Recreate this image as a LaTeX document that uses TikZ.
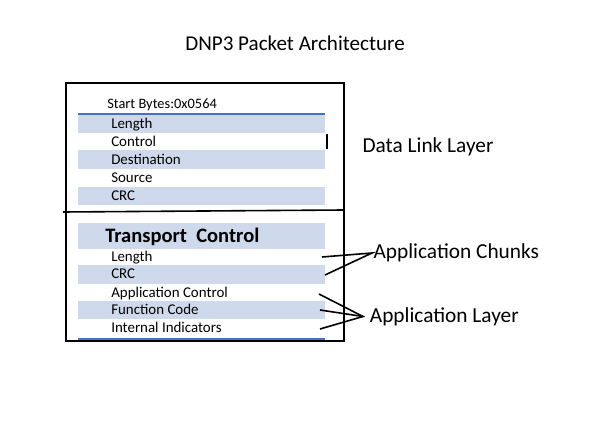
\documentclass[tikz,border=0pt]{standalone}
\usepackage{fontspec}
\setmainfont{Carlito}
\definecolor{bandblue}{RGB}{207,217,236}
\definecolor{lineblue}{RGB}{68,114,196}
\begin{document}
\begin{tikzpicture}[x=0.75pt,y=-0.75pt,
  band/.style={fill=bandblue},
  field/.style={anchor=west,inner sep=0pt,text height=1.45ex,text depth=0.45ex,yshift=-1.1pt,font=\fontsize{11.2}{13}\selectfont},
  layer/.style={anchor=west,inner xsep=1pt,inner ysep=0pt,font=\fontsize{16}{19}\selectfont},
  tie/.style={line width=1.2pt}]
\useasboundingbox (0,0) rectangle (590,442);
\node (title) at (295,43) {\fontsize{15.8}{19}\selectfont DNP3 Packet Architecture};
% shaded rows
\foreach \t/\b in {115/133,150/169,187/205,223/249,265/284,301/319}
  \fill[band] (78,\t) rectangle (325,\b);
\draw[lineblue,line width=0.8pt] (78,114) -- (325,114);
\draw[lineblue,line width=0.8pt] (78,339) -- (325,339);
% frame
\draw[line width=1.2pt] (66,83) rectangle (344,341);
\draw[line width=1.2pt] (63,212) -- (344,210);
\draw[line width=2pt] (327,134) -- (327,149);
% data link fields
\node[field,font=\fontsize{10.8}{13}\selectfont] (start) at (107,104) {Start Bytes:0x0564};
\node[field] (dlen) at (111,124) {Length};
\node[field] (dctl) at (111,141.5) {Control};
\node[field] (ddst) at (111,159.5) {Destination};
\node[field] (dsrc) at (111,178) {Source};
\node[field] (dcrc) at (111,196) {CRC};
% transport and application fields
\node[field,font=\fontsize{15.4}{18}\bfseries] (tctl) at (105,238) {Transport\ \ Control};
\node[field] (tlen) at (111,257) {Length};
\node[field] (tcrc) at (111,274) {CRC};
\node[field] (actl) at (111,293) {Application Control};
\node[field] (afc) at (111,310) {Function Code};
\node[field] (aii) at (111,328) {Internal Indicators};
% layer labels
\node[layer] (dll) at (361,146.5) {Data Link Layer};
\node[layer] (chunks) at (372,253) {Application Chunks};
\node[layer,inner xsep=5pt] (app) at (363,316.5) {Application Layer};
\coordinate (c1) at (322,257);
\coordinate (c2) at (325,275);
\coordinate (a1) at (319,294);
\coordinate (a2) at (320,310);
\coordinate (a3) at (320,329);
\draw[tie] (c1) -- (chunks.west) -- (c2);
\draw[tie] (a1) -- (app.west) -- (a3);
\draw[tie] (a2) -- (app.west);
\end{tikzpicture}
\end{document}
